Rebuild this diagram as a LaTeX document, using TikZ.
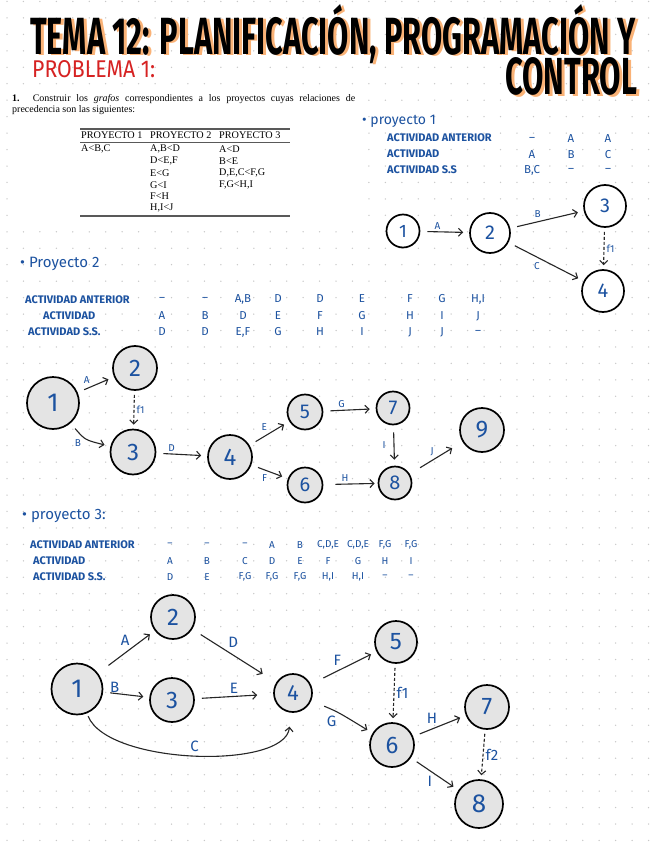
\documentclass[tikz,border=0pt]{standalone}
\usepackage{fontspec}
\usepackage{graphicx}
\setmainfont{Liberation Serif}
\newfontfamily\hand{Fira Sans}
\usetikzlibrary{arrows.meta}

\definecolor{handblue}{RGB}{28,82,160}
\definecolor{nodegray}{RGB}{228,228,228}
\definecolor{dotgray}{RGB}{200,200,200}
\definecolor{titleorange}{RGB}{250,178,118}
\definecolor{probred}{RGB}{214,34,34}

\newcommand{\dig}[1]{\hand\fontsize{#1}{#1}\selectfont}
\newcommand{\titulo}{\resizebox{605pt}{50pt}{\hand\bfseries TEMA 12: PLANIFICACIÓN, PROGRAMACIÓN Y}}
\newcommand{\control}{\resizebox{132pt}{37pt}{\hand\bfseries CONTROL}}

\tikzset{
  vert/.style={circle,draw,line width=1.7pt,fill=nodegray,text=handblue,inner sep=0pt},
  act/.style={line width=1.1pt,draw=black!85,-{Straight Barb[length=4pt,width=8pt]},shorten <=7pt,shorten >=6pt},
  fic/.style={act,dash pattern=on 3pt off 2pt,shorten <=4pt,shorten >=4pt},
  lbl/.style={text=handblue,font=\dig{10},inner sep=2pt},
  lblbig/.style={text=handblue,font=\dig{15},inner sep=2pt},
  head/.style={text=handblue,font=\dig{14},anchor=west,inner sep=0pt},
  hdr/.style={text=handblue,font=\hand\bfseries\fontsize{11}{12}\selectfont,anchor=west,inner sep=0pt},
  val/.style={text=handblue,font=\hand\fontsize{11.5}{12}\selectfont,inner sep=0pt},
  ptxt/.style={font=\fontsize{10.2}{11}\selectfont,anchor=west,inner sep=0pt},
}

\begin{document}
\begin{tikzpicture}[x=1pt,y=-1pt]
\useasboundingbox (0,0) rectangle (656,848);
\fill[white] (0,0) rectangle (656,848);

% dot grid
\foreach \i in {0,...,39}
  \foreach \j in {0,...,51}
    \fill[dotgray] (7+16.45*\i,1.5+16.45*\j) circle (0.75);

% title
\node[anchor=base west,inner sep=0pt,text=titleorange] (titleshadow) at (33,56) {\titulo};
\node[anchor=base west,inner sep=0pt] (title) at (30,55) {\titulo};
\node[anchor=base west,inner sep=0pt,text=titleorange] (controlshadow) at (508,96) {\control};
\node[anchor=base west,inner sep=0pt] (controltxt) at (505,95) {\control};
\node[anchor=base west,inner sep=0pt,text=probred] (problema) at (32,78) {\resizebox{123pt}{17pt}{\hand PROBLEMA 1:}};

% enunciado pegado
\fill[white] (11,88) rectangle (360,222);
\node[anchor=north west,text width=343pt,align=justify,inner sep=0pt,font=\fontsize{10}{11.5}\selectfont] (enunciado) at (12,94)
  {\textbf{1.} Construir los \textit{grafos} correspondientes a los proyectos cuyas relaciones de\linebreak precedencia son las siguientes:};
\draw[line width=1.4pt,black!65] (80,129) -- (290,129);
\draw[line width=0.5pt,black!65] (80,142) -- (290,142);
\draw[line width=1.6pt,black!65] (80,216) -- (290,216);
\node[ptxt] (h1) at (81,135.5) {PROYECTO 1};
\node[ptxt] (h2) at (150,135.5) {PROYECTO 2};
\node[ptxt] (h3) at (219,135.5) {PROYECTO 3};
\node[ptxt] (r11) at (81,149.3) {A<B,C};
\foreach \r [count=\k] in {{A,B<D},{D<E,F},{E<G},{G<I},{F<H},{H,I<J}}
  \node[ptxt] (r2\k) at (150,137.5+11.8*\k) {\r};
\foreach \r [count=\k] in {{A<D},{B<E},{D,E,C<F,G},{F,G<H,I}}
  \node[ptxt] (r3\k) at (219,137.5+11.8*\k) {\r};

% proyecto 1
\node[head] (p1tit) at (362,121) {• proyecto 1};
\node[hdr] (p1ant) at (387,138) {ACTIVIDAD ANTERIOR};
\node[hdr] (p1act) at (387,154) {ACTIVIDAD};
\node[hdr] (p1ss) at (387,170) {ACTIVIDAD S.S};
\foreach \x/\a/\b/\c [count=\k] in {532/–/A/{B,C}, 571/A/B/–, 608/A/C/–} {
  \node[val] (p1a\k) at (\x,139) {\a};
  \node[val] (p1b\k) at (\x,155) {\b};
  \node[val] (p1c\k) at (\x,170) {\c};
}
\node[vert,fill=white,minimum size=33,font=\dig{18}] (p1n1) at (403,231) {1};
\node[vert,fill=white,minimum size=40,font=\dig{20}] (p1n2) at (490,233) {2};
\node[vert,fill=white,minimum size=42,font=\dig{20}] (p1n3) at (605,206) {3};
\node[vert,fill=white,minimum size=42,font=\dig{20}] (p1n4) at (603,291) {4};
\draw[act] (p1n1) -- node[lbl,above,pos=.35] {A} (p1n2);
\draw[act] (p1n2) -- node[lbl,above left,pos=.45] {B} (p1n3);
\draw[act] (p1n2) -- node[lbl,below left,pos=.45] {C} (p1n4);
\draw[fic] (p1n3) -- node[lbl,right] {f1} (p1n4);

% proyecto 2
\node[head,font=\dig{15}] (p2tit) at (20,264) {• Proyecto 2};
\node[hdr] (p2ant) at (25,300) {ACTIVIDAD ANTERIOR};
\node[hdr] (p2act) at (43,316) {ACTIVIDAD};
\node[hdr] (p2ss) at (28,332) {ACTIVIDAD S.S.};
\foreach \x/\a/\b/\c [count=\k] in {162/–/A/D, 205/–/B/D, 243/{A,B}/D/{E,F}, 278/D/E/G, 320/D/F/H, 362/E/G/I, 410/F/H/J, 442/G/I/J, 478/{H,I}/J/–} {
  \node[val] (p2a\k) at (\x,299) {\a};
  \node[val] (p2b\k) at (\x,316) {\b};
  \node[val] (p2c\k) at (\x,332) {\c};
}
\node[vert,minimum size=52,font=\dig{26}] (p2n1) at (53,403) {1};
\node[vert,minimum size=44,font=\dig{24}] (p2n2) at (135,368) {2};
\node[vert,minimum size=45,font=\dig{24}] (p2n3) at (133,452) {3};
\node[vert,minimum size=44,font=\dig{24}] (p2n4) at (230,457) {4};
\node[vert,minimum size=35,font=\dig{20}] (p2n5) at (305,412) {5};
\node[vert,minimum size=35,font=\dig{20}] (p2n6) at (305,485) {6};
\node[vert,minimum size=33,font=\dig{20}] (p2n7) at (393,408) {7};
\node[vert,minimum size=33,font=\dig{20}] (p2n8) at (395,483) {8};
\node[vert,minimum size=44,font=\dig{24}] (p2n9) at (482,430) {9};
\draw[act] (p2n1) -- node[lbl,above left,pos=.4] {A} (p2n2);
\draw[act] (p2n1) .. controls (85,440) .. (p2n3) node[lbl,below left,pos=.4] {B};
\draw[fic] (p2n2) -- node[lbl,right] {f1} (p2n3);
\draw[act] (p2n3) -- node[lbl,above,pos=.3] {D} (p2n4);
\draw[act] (p2n4) -- node[lbl,above left] {E} (p2n5);
\draw[act] (p2n4) -- node[lbl,below left] {F} (p2n6);
\draw[act] (p2n5) -- node[lbl,above,pos=.35] {G} (p2n7);
\draw[act,shorten <=12pt,shorten >=3pt] (p2n6) -- node[lbl,above,pos=.4] {H} (p2n8);
\draw[act] (p2n7) -- node[lbl,left=6pt] {I} (p2n8);
\draw[act,shorten <=12pt,shorten >=12pt] (p2n8) -- node[lbl,above left] {J} (p2n9);

% proyecto 3
\node[head,font=\dig{15}] (p3tit) at (22,516) {• proyecto 3:};
\node[hdr] (p3ant) at (30,545) {ACTIVIDAD ANTERIOR};
\node[hdr] (p3act) at (33,561) {ACTIVIDAD};
\node[hdr] (p3ss) at (33,577) {ACTIVIDAD S.S.};
\foreach \x/\a/\b/\c [count=\k] in {170/–/A/D, 207/–/B/E, 245/–/C/{F,G}, 272/A/D/{F,G}, 300/B/E/{F,G}, 328/{C,D,E}/F/{H,I}, 358/{C,D,E}/G/{H,I}, 385/{F,G}/H/–, 411/{F,G}/I/–} {
  \node[val,font=\hand\fontsize{10}{11}\selectfont] (p3a\k) at (\x,545) {\a};
  \node[val,font=\hand\fontsize{10}{11}\selectfont] (p3b\k) at (\x,561) {\b};
  \node[val,font=\hand\fontsize{10}{11}\selectfont] (p3c\k) at (\x,577) {\c};
}
\node[vert,minimum size=51,font=\dig{26}] (p3n1) at (77,689) {1};
\node[vert,minimum size=44,font=\dig{24}] (p3n2) at (173,617) {2};
\node[vert,minimum size=44,font=\dig{24}] (p3n3) at (172,700) {3};
\node[vert,minimum size=38,font=\dig{22}] (p3n4) at (293,693) {4};
\node[vert,minimum size=42,font=\dig{24}] (p3n5) at (396,642) {5};
\node[vert,minimum size=44,font=\dig{24}] (p3n6) at (392,745) {6};
\node[vert,minimum size=44,font=\dig{24}] (p3n7) at (487,707) {7};
\node[vert,minimum size=48,font=\dig{26}] (p3n8) at (479,804) {8};
\draw[act,shorten <=13pt] (p3n1) -- node[lblbig,above left,pos=.6] {A} (p3n2);
\draw[act] (p3n1) -- node[lblbig,above,pos=.25,inner sep=0pt] {B} (p3n3);
\draw[act,shorten <=10pt,shorten >=16pt] (p3n2) -- node[lblbig,above right,pos=.4] {D} (p3n4);
\draw[act,shorten >=16pt] (p3n3) -- node[lblbig,above] {E} (p3n4);
\draw[act,shorten <=3pt,shorten >=14pt] (p3n1) .. controls (108,765) and (285,770) .. (p3n4) node[lblbig,above,pos=.5] {C};
\draw[act,shorten <=14pt] (p3n4) -- node[lblbig,above left] {F} (p3n5);
\draw[act,shorten <=14pt] (p3n4) .. controls (338,712) .. (p3n6) node[lblbig,below left,pos=.5] {G};
\draw[fic] (p3n5) -- node[lblbig,right] {f1} (p3n6);
\draw[act] (p3n6) -- node[lblbig,above left] {H} (p3n7);
\draw[act] (p3n6) -- node[lblbig,below left] {I} (p3n8);
\draw[fic] (p3n7) -- node[lblbig,right] {f2} (p3n8);
\end{tikzpicture}
\end{document}
